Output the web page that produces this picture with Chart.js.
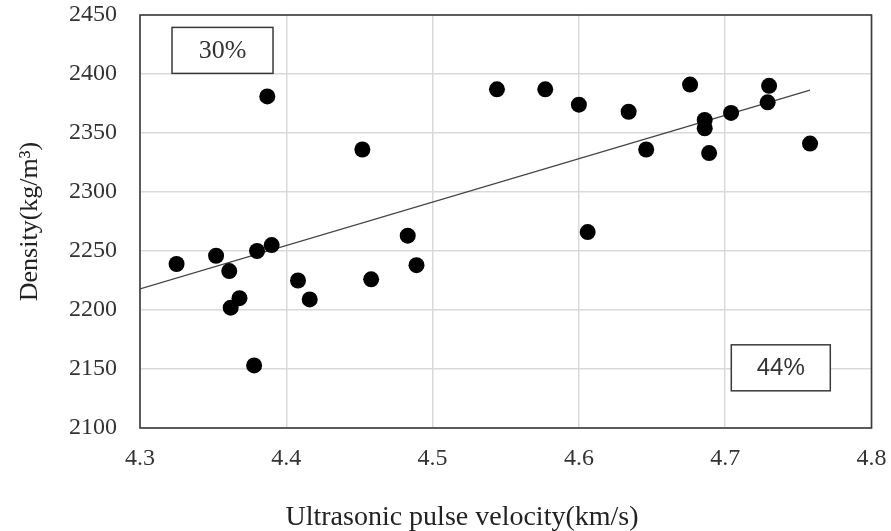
<!DOCTYPE html>
<html>
<head>
<meta charset="utf-8">
<script src="https://cdn.jsdelivr.net/npm/chart.js@4/dist/chart.umd.min.js"></script>
<style>
  html, body { margin: 0; padding: 0; background: #fff; }
  #wrap { width: 891px; height: 531px; }
</style>
</head>
<body>
<div id="wrap"><canvas id="c" width="891" height="531"></canvas></div>
<script>
// Pulse velocity (km/s) and density (kg/m3) of the specimens
const velocity = [
  4.325, 4.352, 4.361, 4.362, 4.368, 4.380, 4.390, 4.378, 4.408, 4.416,
  4.458, 4.483, 4.489, 4.387, 4.452, 4.544, 4.577, 4.600, 4.634, 4.676,
  4.730, 4.729, 4.704, 4.686, 4.686, 4.646, 4.689, 4.758, 4.606
];
const density = [
  2239, 2246, 2233, 2202, 2210, 2250, 2255, 2153, 2225, 2209,
  2226, 2263, 2238, 2381, 2336, 2387, 2387, 2374, 2368, 2391,
  2390, 2376, 2367, 2361, 2354, 2336, 2333, 2341, 2266
];

// Linear trend line end points
const trendX = [4.3, 4.758];
const trendY = [2217.8, 2386.4];

// Axis ticks
const xTicks = [4.3, 4.4, 4.5, 4.6, 4.7, 4.8];
const yTicks = [2100, 2150, 2200, 2250, 2300, 2350, 2400, 2450];

// Boxed labels: text and anchor (data coordinates)
const boxLabels = ['30%', '44%'];
const boxX = [4.3564, 4.738];
const boxY = [2420, 2151];

const points = velocity.map((v, i) => ({ x: v, y: density[i] }));
const trend = trendX.map((v, i) => ({ x: v, y: trendY[i] }));

const SERIF = '"Liberation Serif", "Times New Roman", serif';
const SANS = '"Liberation Sans", Arial, sans-serif';

const frameAndText = {
  id: 'frameAndText',
  afterDatasetsDraw(chart) {
    const { ctx, chartArea: a, scales } = chart;
    ctx.save();
    // plot area frame
    ctx.strokeStyle = '#3a3a3a';
    ctx.lineWidth = 1.6;
    ctx.strokeRect(a.left, a.top, a.right - a.left, a.bottom - a.top);

    // boxed percentage labels
    const fonts = ['26px ' + SERIF, '24px ' + SANS];
    const widths = [101, 99];
    boxLabels.forEach((t, i) => {
      const cx = scales.x.getPixelForValue(boxX[i]);
      const cy = scales.y.getPixelForValue(boxY[i]);
      const w = widths[i], h = 46;
      ctx.fillStyle = '#fff';
      ctx.fillRect(cx - w / 2, cy - h / 2, w, h);
      ctx.strokeStyle = '#3a3a3a';
      ctx.lineWidth = 1.5;
      ctx.strokeRect(cx - w / 2, cy - h / 2, w, h);
      ctx.fillStyle = '#333';
      ctx.font = fonts[i];
      ctx.textAlign = 'center';
      ctx.textBaseline = 'middle';
      ctx.fillText(t, cx, cy + 1);
    });

    // axis titles
    ctx.fillStyle = '#222';
    ctx.font = '28px ' + SERIF;
    ctx.textAlign = 'center';
    ctx.textBaseline = 'alphabetic';
    ctx.fillText('Ultrasonic pulse velocity(km/s)', 462, 525);

    ctx.translate(30, (a.top + a.bottom) / 2);
    ctx.rotate(-Math.PI / 2);
    ctx.font = '26px ' + SERIF;
    ctx.textBaseline = 'middle';
    ctx.fillText('Density(kg/m\u00B3)', 0, 0);
    ctx.restore();
  }
};

// keep the plot area fixed: no extra room for overhanging tick labels
function noOverhang(s) {
  s.paddingTop = 0;
  s.paddingBottom = 0;
  s.paddingLeft = 0;
  s.paddingRight = 0;
}

new Chart(document.getElementById('c'), {
  type: 'scatter',
  data: {
    datasets: [
      {
        data: points,
        order: 1,
        pointRadius: 8,
        pointHoverRadius: 8,
        backgroundColor: '#000',
        borderWidth: 0
      },
      {
        type: 'line',
        data: trend,
        order: 2,
        showLine: true,
        pointRadius: 0,
        borderColor: '#444',
        borderWidth: 1.3,
        fill: false
      }
    ]
  },
  options: {
    responsive: false,
    animation: false,
    devicePixelRatio: 1,
    events: [],
    layout: { padding: { top: 15, right: 19.5, left: 0, bottom: 0 } },
    plugins: {
      legend: { display: false },
      tooltip: { enabled: false },
      title: { display: false }
    },
    scales: {
      x: {
        type: 'linear',
        min: 4.3,
        max: 4.8,
        afterBuildTicks: s => { s.ticks = xTicks.map(v => ({ value: v })); },
        afterFit: s => { s.height = 103; noOverhang(s); },
        grid: { color: '#d9d9d9', lineWidth: 1.5, drawTicks: false },
        border: { display: false },
        ticks: {
          padding: 16,
          color: '#333',
          font: { family: SERIF, size: 24 },
          callback: v => v.toFixed(1)
        }
      },
      y: {
        type: 'linear',
        min: 2100,
        max: 2450,
        afterBuildTicks: s => { s.ticks = yTicks.map(v => ({ value: v })); },
        afterFit: s => { s.width = 140; noOverhang(s); },
        grid: { color: '#d9d9d9', lineWidth: 1.5, drawTicks: false },
        border: { display: false },
        ticks: {
          padding: 23,
          color: '#333',
          font: { family: SERIF, size: 24 },
          callback: v => String(v)
        }
      }
    }
  },
  plugins: [frameAndText]
});
</script>
</body>
</html>
